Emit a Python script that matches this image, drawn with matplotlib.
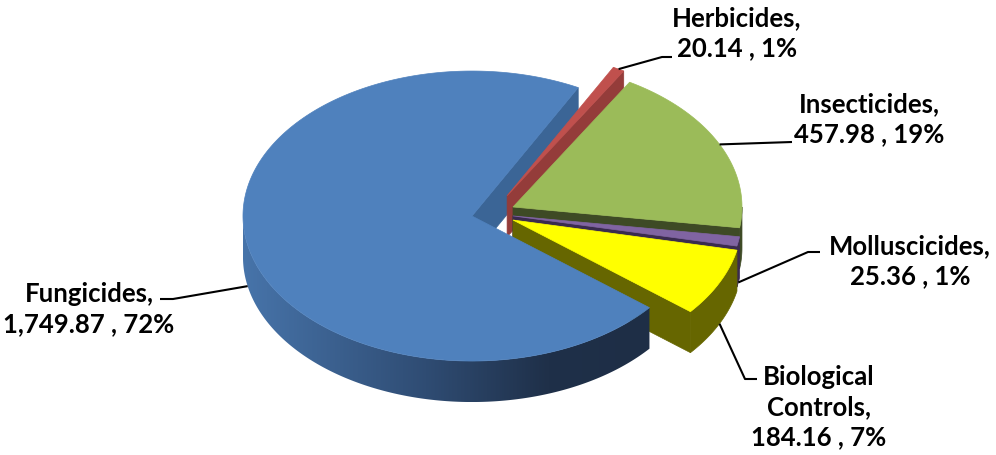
import numpy as np
import matplotlib
matplotlib.use("Agg")
import matplotlib.pyplot as plt
from matplotlib.patches import Polygon
from matplotlib.colors import LinearSegmentedColormap

# Pesticide sales by class
categories = ["Fungicides", "Herbicides", "Insecticides", "Molluscicides", "Biological\nControls"]
values = [1749.87, 20.14, 457.98, 25.36, 184.16]
value_labels = ["1,749.87", "20.14", "457.98", "25.36", "184.16"]
percent_labels = ["72%", "1%", "19%", "1%", "7%"]

# Style of the 3-D pie
top_colors = ["#4F81BD", "#C0504D", "#9BBB59", "#8064A2", "#FFFF00"]
face_colors = ["#3B6596", "#943C3A", "#3E4A25", "#3A2B4E", "#666600"]
wall_colors = ["#2E4A70", "#943C3A", "#3E4A25", "#3A2B4E", "#666600"]
explode = [0.087, 0.14, 0.104, 0.095, 0.104]
start_angle = 129.2          # degrees clockwise from 12 o'clock
CX, CY = 491.5, 214.5        # pie centre in pixel space
RX, RY = 229.0, 145.0        # ellipse radii of the top face
DEPTH = 41.0                 # thickness of the pie

# label layout: block centre, leader elbow points
label_pos = [(89, 309), (737, 33), (869, 119), (910, 261), (819, 407)]
leader_pts = [[(173, 300), (160, 300)],
              [(662, 58), (672, 58)],
              [(792, 143)],
              [(808, 253), (820, 253)],
              [(745, 380), (757, 380)]]

fig = plt.figure(figsize=(9.96, 4.56), dpi=100)
ax = fig.add_axes([0, 0, 1, 1])
ax.set_xlim(0, 996)
ax.set_ylim(456, 0)
ax.axis("off")

total = sum(values)
spans = [v / total * 360.0 for v in values]
starts = [start_angle + sum(spans[:i]) for i in range(len(values))]


def rim(cx, cy, th):
    t = np.radians(th)
    return cx + RX * np.sin(t), cy - RY * np.cos(t)


def arc(cx, cy, a, b, n=None):
    if n is None:
        n = max(3, int(abs(b - a) * 2))
    th = np.linspace(a, b, n)
    x, y = rim(cx, cy, th)
    return np.column_stack([x, y])


def apex(i):
    mid = starts[i] + spans[i] / 2
    t = np.radians(mid)
    return CX + explode[i] * RX * np.sin(t), CY - explode[i] * RY * np.cos(t)


def add_poly(pts, color, z):
    p = Polygon(pts, closed=True, facecolor=color, edgecolor=color,
                linewidth=0.5, zorder=z, antialiased=True)
    ax.add_patch(p)
    return p


blue_wall = LinearSegmentedColormap.from_list(
    "bluewall", [(0.0, "#4774AA"), (0.45, "#2F4C73"), (0.75, "#1F3049"), (1.0, "#1E2E46")])


def radial_faces(i, z):
    ax0, ay0 = apex(i)
    a, b = starts[i], starts[i] + spans[i]
    # start edge faces counter-clockwise, end edge faces clockwise
    for th, visible in ((a, np.sin(np.radians(a)) < 0), (b, np.sin(np.radians(b)) > 0)):
        if visible:
            rx_, ry_ = rim(ax0, ay0, th)
            pts = [(ax0, ay0), (rx_, ry_), (rx_, ry_ + DEPTH), (ax0, ay0 + DEPTH)]
            add_poly(pts, face_colors[i], z)


def walls(i, z):
    ax0, ay0 = apex(i)
    a, b = starts[i], starts[i] + spans[i]
    for lo, hi in ((90, 270), (450, 630)):
        s, e = max(a, lo), min(b, hi)
        if e > s:
            top = arc(ax0, ay0, s, e)
            bot = top[::-1] + np.array([0, DEPTH])
            pts = np.vstack([top, bot])
            if i == 0:
                patch = add_poly(pts, "none", z)
                patch.set_edgecolor("none")
                grad = np.linspace(0, 1, 256).reshape(1, -1)
                x0, x1 = pts[:, 0].min(), pts[:, 0].max()
                y0, y1 = pts[:, 1].min(), pts[:, 1].max()
                im = ax.imshow(grad, extent=[x0, x1, y1, y0], cmap=blue_wall,
                               aspect="auto", zorder=z, interpolation="bilinear")
                im.set_clip_path(patch)
            else:
                add_poly(pts, wall_colors[i], z)


def top_face(i, z):
    ax0, ay0 = apex(i)
    a, b = starts[i], starts[i] + spans[i]
    pts = np.vstack([[ax0, ay0], arc(ax0, ay0, a, b)])
    add_poly(pts, top_colors[i], z)


z = 1
radial_faces(0, z)
z += 1
for i in range(1, len(values)):
    radial_faces(i, z)
    walls(i, z)
    z += 1
    top_face(i, z)
    z += 1
walls(0, z)
z += 1
top_face(0, z)
z += 1

ax.set_xlim(0, 996)
ax.set_ylim(456, 0)

# data labels with leader lines
for i in range(len(values)):
    ax0, ay0 = apex(i)
    mid = starts[i] + spans[i] / 2
    px, py = rim(ax0, ay0, mid)
    if -np.cos(np.radians(mid)) > 0:
        py += DEPTH
    xs = [px] + [p[0] for p in leader_pts[i]]
    ys = [py] + [p[1] for p in leader_pts[i]]
    ax.plot(xs, ys, color="black", lw=1.5, zorder=z, solid_capstyle="butt")
    text = f"{categories[i]},\n{value_labels[i]} , {percent_labels[i]}"
    lx, ly = label_pos[i]
    ax.text(lx, ly, text, ha="center", va="center", multialignment="center",
            fontsize=18.5, fontweight="bold", family="Lato", color="#000000",
            linespacing=1.3, zorder=z)

fig.savefig("out.png", dpi=100)
